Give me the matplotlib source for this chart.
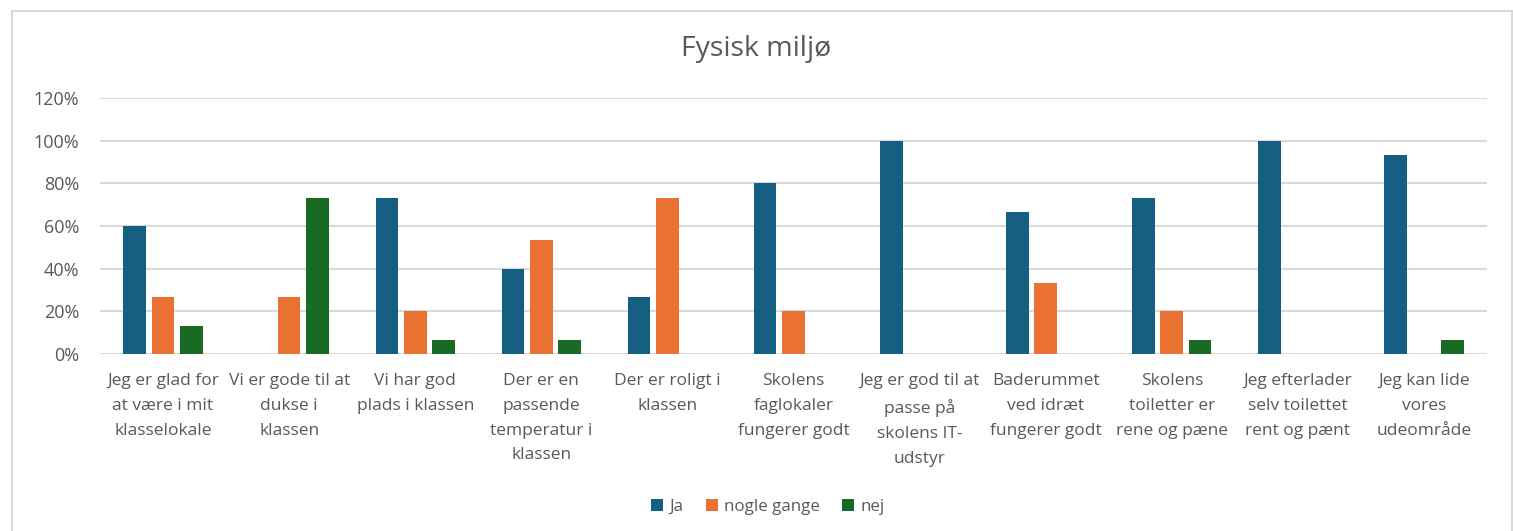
import numpy as np
import matplotlib.pyplot as plt
from matplotlib.patches import Rectangle

categories = [
    "Jeg er glad for\nat være i mit\nklasselokale",
    "Vi er gode til at\ndukse i\nklassen",
    "Vi har god\nplads i klassen",
    "Der er en\npassende\ntemperatur i\nklassen",
    "Der er roligt i\nklassen",
    "Skolens\nfaglokaler\nfungerer godt",
    "Jeg er god til at\npasse på\nskolens IT-\nudstyr",
    "Baderummet\nved idræt\nfungerer godt",
    "Skolens\ntoiletter er\nrene og pæne",
    "Jeg efterlader\nselv toilettet\nrent og pænt",
    "Jeg kan lide\nvores\nudeområde",
]
ja = [0.600, 0.0, 0.733, 0.400, 0.267, 0.800, 1.000, 0.667, 0.733, 1.000, 0.933]
nogle_gange = [0.267, 0.267, 0.200, 0.533, 0.733, 0.200, 0.0, 0.333, 0.200, 0.0, 0.0]
nej = [0.133, 0.733, 0.067, 0.067, 0.0, 0.0, 0.0, 0.0, 0.067, 0.0, 0.067]

series = [("Ja", ja, "#156082"), ("nogle gange", nogle_gange, "#E97132"), ("nej", nej, "#196B24")]

plt.rcParams['font.family'] = ['Open Sans', 'DejaVu Sans']
txt = "#595959"

fig = plt.figure(figsize=(15.13, 5.31), dpi=100)
fig.patches.append(Rectangle((12 / 1513, -0.01), 1500 / 1513, (531 - 11) / 531 + 0.01,
                             transform=fig.transFigure, fill=False, edgecolor="#D9D9D9", lw=1.5))
ax = fig.add_axes([100 / 1513, (531 - 354) / 531, (1487 - 100) / 1513, (354 - 98) / 531])

x = np.arange(len(categories))
w = 0.18
step = 0.225
for i, (name, vals, col) in enumerate(series):
    ax.bar(x + (i - 1) * step, vals, width=w, color=col, label=name, zorder=3)

ax.set_xlim(-0.5, len(categories) - 0.5)
ax.set_ylim(0, 1.2)
ax.set_yticks(np.arange(0, 1.21, 0.2))
ax.set_yticklabels([f"{int(round(v * 100))}%" for v in np.arange(0, 1.21, 0.2)], color=txt, fontsize=13)
ax.set_xticks(x)
ax.set_xticklabels(categories, color=txt, fontsize=12.5, va="top", linespacing=1.72)
ax.tick_params(axis="both", length=0)
ax.tick_params(axis="x", pad=14)
ax.tick_params(axis="y", pad=15)
ax.grid(axis="y", color="#D9D9D9", lw=1.5, zorder=0)
for s in ax.spines.values():
    s.set_visible(False)

fig.text(0.5, 1 - 49 / 531, "Fysisk miljø", ha="center", va="center", fontsize=20.5, color=txt)
fig.legend(loc="center", bbox_to_anchor=(768 / 1513, 1 - 507 / 531), ncol=3, frameon=False,
           fontsize=12.2, handlelength=0.7, handleheight=0.7, handletextpad=0.4, columnspacing=1.3,
           labelcolor=txt)

fig.savefig("out.png", dpi=100)
